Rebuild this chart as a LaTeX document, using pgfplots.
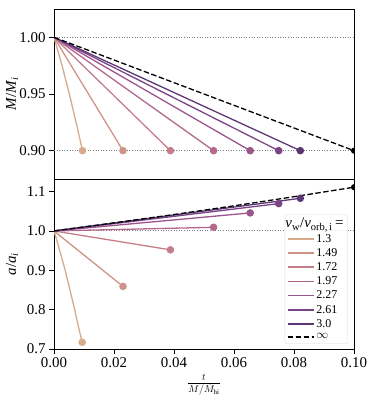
\documentclass[border=0pt]{standalone}
\usepackage{fontspec}
\setmainfont{Liberation Serif}
\usepackage{pgfplots}
\pgfplotsset{compat=1.18}

% colours of the wind-speed series, light to dark
\definecolor{ca}{RGB}{214,171,139}
\definecolor{cb}{RGB}{206,148,135}
\definecolor{cc}{RGB}{197,125,138}
\definecolor{cd}{RGB}{180,104,140}
\definecolor{ce}{RGB}{156,84,140}
\definecolor{cf}{RGB}{122,68,135}
\definecolor{cg}{RGB}{90,56,118}

% left half of a dot, for a point sitting on the right frame
\pgfdeclareplotmark{lhalf}{%
  \pgfpathmoveto{\pgfqpoint{0pt}{\pgfplotmarksize}}%
  \pgfpatharc{90}{270}{\pgfplotmarksize}%
  \pgfpathclose
  \pgfusepathqfill}

\pgfplotsset{
  panel/.style={
    scale only axis, width=300bp, height=170bp,
    xmin=0, xmax=0.1,
    axis line style={line width=0.8bp},
    tick style={black, line width=0.8bp},
    major tick length=5bp,
    tick align=outside,
    xtick pos=lower, ytick pos=left,
    /pgf/number format/assume math mode=true,
    tick label style={font=\fontsize{15}{17}\selectfont},
    label style={font=\fontsize{15}{17}\selectfont},
    ylabel style={at={(axis description cs:-0.14,0.5)}, anchor=center},
    every axis plot/.append style={line width=1.3bp},
  },
  endpt/.style={only marks, mark=*, mark size=3.1bp, forget plot},
  ref/.style={gray, line width=1bp, dash pattern=on 1bp off 1.6bp, forget plot},
}

\begin{document}
\begin{tikzpicture}
\path[use as bounding box] (-54bp,-52bp) rectangle (319bp,349bp);

% upper panel: mass
\begin{axis}[panel, at={(0,170bp)}, anchor=south west,
  ymin=0.875, ymax=1.025, ytick={0.90,0.95,1.00}, xtick=\empty,
  yticklabel style={/pgf/number format/.cd, fixed, fixed zerofill, precision=2},
  ylabel={\textit{M}/\textit{M}\textsubscript{\textit{i}}}]
\addplot[ref] coordinates {(0,1) (0.1,1)};
\addplot[ref] coordinates {(0,0.9) (0.1,0.9)};
\addplot[ca] coordinates {(0,1) (0.0027,0.975) (0.0053,0.948) (0.0077,0.921) (0.0095,0.9)};
\addplot[cb] coordinates {(0,1) (0.0230,0.9)};
\addplot[cc] coordinates {(0,1) (0.0388,0.9)};
\addplot[cd] coordinates {(0,1) (0.0532,0.9)};
\addplot[ce] coordinates {(0,1) (0.0654,0.9)};
\addplot[cf] coordinates {(0,1) (0.0749,0.9)};
\addplot[cg] coordinates {(0,1) (0.0821,0.9)};
\addplot[black, dash pattern=on 5.5bp off 2.5bp] coordinates {(0,1) (0.1,0.9)};
\addplot[endpt, ca] coordinates {(0.0095,0.9)};
\addplot[endpt, cb] coordinates {(0.0230,0.9)};
\addplot[endpt, cc] coordinates {(0.0388,0.9)};
\addplot[endpt, cd] coordinates {(0.0532,0.9)};
\addplot[endpt, ce] coordinates {(0.0654,0.9)};
\addplot[endpt, cf] coordinates {(0.0749,0.9)};
\addplot[endpt, cg] coordinates {(0.0821,0.9)};
\addplot[endpt, black, mark=lhalf] coordinates {(0.1,0.9)};
\end{axis}

% lower panel: separation
\begin{axis}[panel, at={(0,0)}, anchor=south west,
  ymin=0.7, ymax=1.132, ytick={0.7,0.8,0.9,1.0,1.1},
  xtick={0,0.02,0.04,0.06,0.08,0.10},
  yticklabel style={/pgf/number format/.cd, fixed, fixed zerofill, precision=1},
  xticklabel style={/pgf/number format/.cd, fixed, fixed zerofill, precision=2},
  ylabel={\textit{a}/\textit{a}\textsubscript{\textit{i}}},
  xlabel={$\frac{t}{M/\dot{M}_{\mathrm{hi}}}$},
  xlabel style={at={(axis description cs:0.5,0)}, yshift=-36bp, anchor=center,
    font=\fontsize{14.4}{17}\selectfont},
  legend cell align=left,
  legend image code/.code={\draw[#1, line width=1.6bp] (0bp,0bp) -- (26bp,0bp);},
  legend style={at={(0.979,0.03)}, anchor=south east, draw=black!15, rounded corners=2bp,
    fill=white, fill opacity=0.8, text opacity=1, font=\fontsize{12}{13}\selectfont,
    inner xsep=2bp, inner ysep=1.5bp, row sep=0.8bp}]
\addplot[ref] coordinates {(0,1) (0.1,1)};
\addlegendimage{empty legend}
\addlegendentry{\hspace{-31bp}\fontsize{15}{16}\selectfont\textit{v}\textsubscript{w}/\textit{v}\textsubscript{orb,\,i}\,=}
\addplot[ca] coordinates {(0,1) (0.0014,0.964) (0.0037,0.901) (0.0068,0.803) (0.0080,0.761) (0.0094,0.717)};
\addlegendentry{1.3}
\addplot[cb] coordinates {(0,1) (0.0230,0.859)};
\addlegendentry{1.49}
\addplot[cc] coordinates {(0,1) (0.0388,0.952)};
\addlegendentry{1.72}
\addplot[cd] coordinates {(0,1) (0.0532,1.0093)};
\addlegendentry{1.97}
\addplot[ce] coordinates {(0,1) (0.0654,1.0458)};
\addlegendentry{2.27}
\addplot[cf] coordinates {(0,1) (0.0749,1.0695)};
\addlegendentry{2.61}
\addplot[cg] coordinates {(0,1) (0.0821,1.083)};
\addlegendentry{3.0}
\addplot[black, dash pattern=on 5.5bp off 2.5bp] coordinates {(0,1) (0.02,1.0204) (0.04,1.0417) (0.06,1.0638) (0.08,1.0870) (0.1,1.1111)};
\addlegendentry{$\infty$}
\addplot[endpt, ca] coordinates {(0.0094,0.717)};
\addplot[endpt, cb] coordinates {(0.0230,0.859)};
\addplot[endpt, cc] coordinates {(0.0388,0.952)};
\addplot[endpt, cd] coordinates {(0.0532,1.0093)};
\addplot[endpt, ce] coordinates {(0.0654,1.0458)};
\addplot[endpt, cf] coordinates {(0.0749,1.0695)};
\addplot[endpt, cg] coordinates {(0.0821,1.083)};
\addplot[endpt, black, mark=lhalf] coordinates {(0.1,1.1111)};
\end{axis}
\end{tikzpicture}
\end{document}
